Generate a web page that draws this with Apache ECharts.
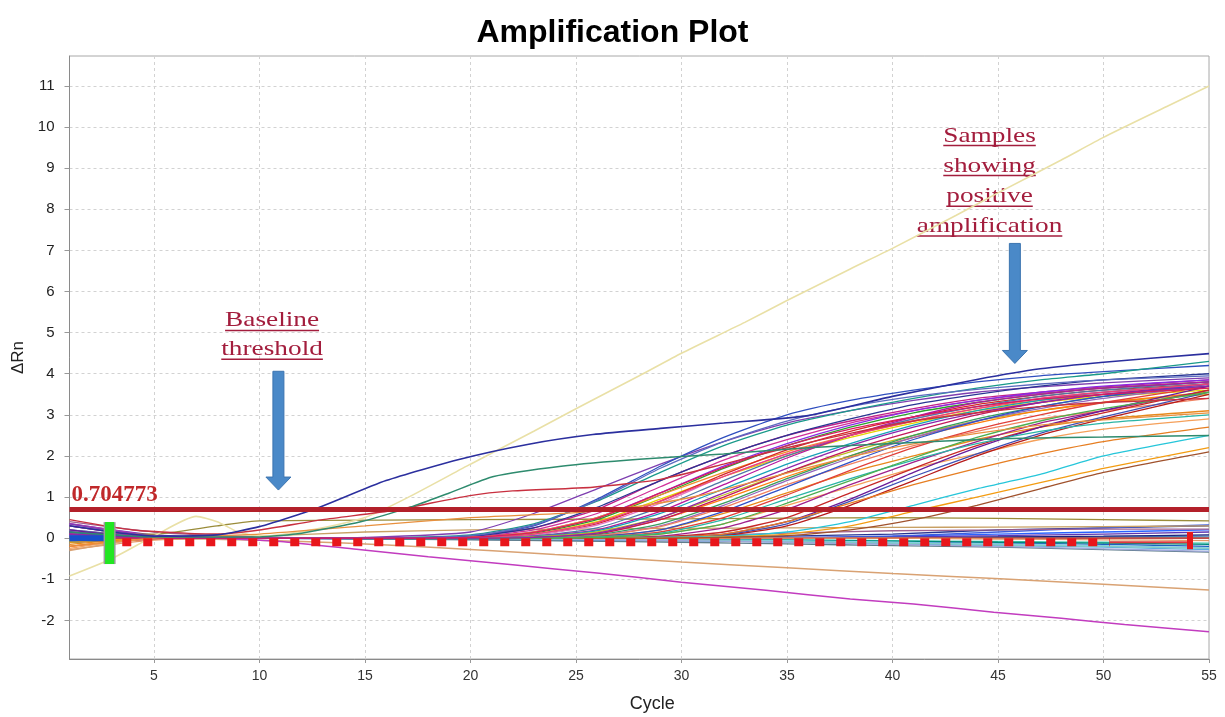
<!DOCTYPE html>
<html><head><meta charset="utf-8">
<script src="https://cdn.jsdelivr.net/npm/echarts@6/dist/echarts.min.js"></script>
<style>html,body{margin:0;padding:0;background:#fff}#c{width:1225px;height:717px}</style>
</head><body><div id="c"></div>
<script>
// ---------------- DATA ----------------
const xTicks = [5,10,15,20,25,30,35,40,45,50,55];
const yTicks = [-2,-1,0,1,2,3,4,5,6,7,8,9,10,11];
const thresholdValue = 0.704773;

// amplifying samples, sampled at these cycles
const ampCycles = [1,5,10,15,20,23,26,29,32,35,38,41,44,47,50,55];
const ampCurves = [
  [0.35,0.05,0,0.02,0.15,0.6,1.2,1.8,2.35,2.8,3.1,3.35,3.55,3.68,3.78,3.9],
  [0.3,0.03,0,0,0.05,0.3,0.95,1.75,2.45,3.0,3.35,3.6,3.8,3.95,4.05,4.2],
  [0.1,0.02,0,0,0.08,0.35,0.9,1.6,2.25,2.75,3.1,3.4,3.65,3.85,4.0,4.3],
  [0.2,0.03,0,0,0.05,0.25,0.7,1.4,2.0,2.5,2.85,3.15,3.4,3.55,3.68,3.85],
  [0.15,0.02,0,0,0.03,0.2,0.6,1.25,1.9,2.4,2.8,3.1,3.35,3.52,3.65,3.8],
  [0,0,0,0,0.03,0.15,0.5,1.1,1.75,2.3,2.75,3.1,3.35,3.55,3.7,3.85],
  [0.05,0.02,0,0,0.05,0.25,0.75,1.4,2.0,2.5,2.9,3.25,3.5,3.7,3.85,4.0],
  [0,0,0,0,0.02,0.12,0.45,1.05,1.7,2.25,2.7,3.05,3.3,3.5,3.65,3.8],
  [-0.1,0,0,0,0.02,0.15,0.5,1.05,1.6,2.1,2.5,2.85,3.15,3.35,3.5,3.65],
  [-0.05,0,0,0,0.02,0.1,0.4,0.95,1.5,2.0,2.45,2.8,3.1,3.3,3.45,3.6],
  [0.1,0.02,0,0,0.02,0.08,0.35,0.9,1.55,2.15,2.6,2.95,3.25,3.45,3.6,3.75],
  [0.05,0,0,0,0,0.08,0.32,0.85,1.5,2.05,2.5,2.9,3.2,3.4,3.55,3.7],
  [0.2,0.02,0,0,0,0.05,0.25,0.75,1.4,2.0,2.5,2.9,3.2,3.45,3.6,3.8],
  [0.1,0,0,0,0,0.05,0.2,0.65,1.3,1.95,2.5,2.95,3.3,3.5,3.65,3.8],
  [-0.1,0,0,0,0,0.04,0.18,0.6,1.2,1.8,2.3,2.75,3.1,3.35,3.55,3.75],
  [0,0,0,0,0,0.03,0.15,0.5,1.05,1.6,2.1,2.5,2.85,3.1,3.3,3.5],
  [-0.2,0,0,0,0,0.02,0.12,0.45,0.95,1.5,2.0,2.45,2.8,3.1,3.3,3.55],
  [0.05,0,0,0,0,0.02,0.1,0.45,1.0,1.6,2.15,2.6,3.0,3.3,3.5,3.75],
  [0,0,0,0,0,0.02,0.08,0.35,0.85,1.45,2.0,2.5,2.9,3.2,3.45,3.7],
  [0.1,0,0,0,0,0,0.06,0.3,0.8,1.4,1.95,2.45,2.85,3.15,3.4,3.7],
  [0,0,0,0,0,0,0.06,0.28,0.75,1.3,1.8,2.25,2.6,2.9,3.1,3.4],
  [-0.15,0,0,0,0,0,0.05,0.2,0.6,1.1,1.6,2.0,2.4,2.7,2.9,3.1],
  [0.15,0,0,0,0,0,0.04,0.2,0.65,1.25,1.85,2.4,2.85,3.2,3.45,3.75],
  [0,0,0,0,0,0,0.03,0.15,0.5,1.05,1.65,2.2,2.65,3.0,3.3,3.7],
  [-0.25,0,0,0,0,0,0.02,0.1,0.35,0.8,1.25,1.7,2.05,2.4,2.65,2.9],
  [0.1,0,0,0,0,0,0,0.05,0.25,0.7,1.3,1.85,2.35,2.8,3.1,3.6],
  [0,0,0,0,0,0,0,0.03,0.15,0.5,1.1,1.7,2.25,2.7,3.05,3.6],
  [0.2,0,0,0,0,0,0,0.02,0.1,0.4,0.95,1.6,2.2,2.7,3.1,3.7],
  [0.05,0,0,0,0,0,0,0.02,0.08,0.35,0.9,1.5,2.05,2.55,2.95,3.55],
  [0,0,0,0,0,0,0,0,0.06,0.3,0.8,1.4,2.0,2.5,2.9,3.5],
  [0,0,0,0,0,0,0,0.02,0.1,0.4,0.85,1.3,1.7,2.05,2.35,2.7],
  [0,0,0,0,0,0,0,0.02,0.05,0.15,0.4,0.8,1.2,1.55,2.0,2.5],
  [-0.1,0,0,0,0,0,0,0,0.03,0.1,0.3,0.65,1.0,1.35,1.7,2.2],
  [0,0,0,0,0,0,0,0,0.02,0.06,0.2,0.45,0.8,1.2,1.6,2.1],
  [0,0,0,0,0,0,0.03,0.12,0.45,0.95,1.45,1.9,2.3,2.6,2.8,3.0],
  [0,0,0,0,0,0,0.02,0.1,0.35,0.85,1.4,1.95,2.45,2.85,3.15,3.55],
  [0.3,0.03,0,0,0.02,0.1,0.38,0.9,1.5,2.05,2.5,2.85,3.15,3.4,3.55,3.75],
  [0.05,0,0,0,0.06,0.32,0.92,1.7,2.35,2.85,3.2,3.45,3.62,3.75,3.85,3.95],
  [0.1,0,0,0,0,0.02,0.12,0.5,1.1,1.7,2.25,2.7,3.05,3.3,3.5,3.7],
  [0,0,0,0,0.02,0.14,0.48,1.1,1.72,2.25,2.65,2.95,3.2,3.38,3.5,3.65]
];
const ampColors = ['#7e3fb0','#2f4fbf','#1a9a8a','#c0208a','#d0309a','#8a2be2','#283593','#2ca02c',
  '#f28e2b','#e6d200','#d62728','#e377c2','#4e79a7','#b5179e','#17a2b8','#bcbd22','#ff7f0e','#c2185b',
  '#3a9d5d','#9467bd','#f08060','#e8891c','#3050c8','#e0403a','#f5a05a','#a0208c','#c62828','#6a1b9a',
  '#3f51b5','#b71c1c','#e67e22','#26c6da','#f39c12','#a0522d','#2ab5a5','#4caf50','#ec407a','#5c6bc0',
  '#8e24aa','#d81b60'];

// non-amplifying samples near the baseline
const baseCycles = [1,5,10,15,20,25,30,35,40,45,50,55];
const baseCurves = [
  [0.05,0,0,-0.02,-0.03,-0.05,-0.06,-0.08,-0.1,-0.12,-0.15,-0.2],
  [0.1,0.02,0,0,-0.02,-0.04,-0.06,-0.1,-0.14,-0.18,-0.22,-0.28],
  [-0.1,0,0,0,0,0,-0.02,-0.04,-0.06,-0.08,-0.1,-0.12],
  [0.3,0.05,0,0,0,0,0,0,0,0.02,0.03,0.05],
  [0.15,0.03,0,0,0,0,0,0.01,0.02,0.03,0.05,0.08],
  [-0.05,0,0,0,-0.01,-0.02,-0.03,-0.05,-0.07,-0.1,-0.12,-0.15],
  [0,0,0,-0.02,-0.04,-0.07,-0.1,-0.14,-0.18,-0.22,-0.28,-0.34],
  [0.2,0.05,0.02,0,0,-0.02,-0.04,-0.06,-0.1,-0.14,-0.18,-0.24],
  [-0.05,0,0,0,0,0,0,0,0.05,0.1,0.15,0.2],
  [0.35,0.08,0,0,0,0,0,0,0.03,0.06,0.1,0.15],
  [0.05,0,0,0,0,0,0,0,0,0,0,0],
  [-0.1,-0.02,0,0,0,0,0,0,0,0,0,0],
  [0,0,0,0,0,-0.02,-0.05,-0.08,-0.12,-0.16,-0.2,-0.25],
  [0.1,0,0,0,0,0,0,0.05,0.1,0.2,0.25,0.3],
  [0,0,0,0,0,0,0,0.02,0.05,0.15,0.25,0.32],
  [-0.2,-0.02,0,0,0,0,0,0,0,0,0,0],
  [-0.28,-0.05,0,0,0,0,0,0,0,-0.02,-0.04,-0.06],
  [0.05,0,0,0,0,-0.03,-0.06,-0.1,-0.15,-0.2,-0.26,-0.32],
  [0.1,0.02,0.05,0.15,0.2,0.22,0.24,0.25,0.26,0.27,0.28,0.3],
  [0.4,0.15,0.03,0,0,0,0.05,0.12,0.18,0.2,0.22,0.22]
];
const baseColors = ['#1f5fbf','#5dade2','#48c9b0','#4682b4','#1a237e','#00897b','#607d8b','#87ceeb',
  '#2962ff','#5e35b1','#008b8b','#8b1a1a','#80cbc4','#283593','#3b5bdb','#d9534f','#e59866','#9fa8da',
  '#c8a064','#a06090'];

// individually traced curves: [cycle, ΔRn]
const khakiCurve = [[1,-0.92],[3,-0.5],[5,0.05],[7,0.53],[8,0.4],[9,0.15],[10,0.05],[11,0.08],[13,0.25],[15,0.5],
  [17,0.98],[20,1.8],[23,2.6],[25,3.15],[28,3.95],[30,4.5],[33,5.25],[35,5.78],[38,6.55],[40,7.05],
  [43,7.85],[45,8.4],[48,9.2],[50,9.75],[53,10.5],[55,11.0]];
const earlyNavyCurve = [[1,0.3],[3,0.15],[5,0.05],[8,0.08],[10,0.28],[12,0.6],[13,0.78],[16,1.4],[19.5,1.92],
  [22.7,2.28],[25.8,2.52],[29,2.67],[32,2.8],[36,2.98],[40,3.45],[44,3.86],[47,4.12],[50,4.28],[55,4.49]];
const earlyGreenCurve = [[1,0.15],[5,0.03],[10,0.03],[12,0.12],[14.8,0.4],[17.3,0.78],[19,1.1],[21.1,1.5],
  [24.3,1.75],[28,1.92],[32,2.05],[36,2.2],[40,2.3],[45,2.42],[50,2.46],[55,2.5]];
const earlyRedCurve = [[1,0.45],[4,0.2],[8,0.1],[10,0.2],[13,0.45],[16.4,0.68],[19.9,1.03],[22,1.15],[25.8,1.24],
  [29,1.43],[32,1.8],[35,2.2],[38,2.55],[41,2.85],[44,3.05],[47,3.2],[50,3.3],[55,3.4]];
const slowOrangeCurve = [[1,-0.2],[5,0],[10,0.1],[15,0.3],[20,0.5],[25,0.62],[28,0.78],[31,1.05],[34,1.45],
  [37,1.85],[40,2.2],[44,2.55],[48,2.8],[55,3.05]];
const oliveFlatCurve = [[1,0.1],[5,0.1],[8,0.3],[10,0.42],[20,0.45],[30,0.47],[40,0.5],[50,0.45],[55,0.42]];
const magentaDecline = [[1,0.35],[3,0.2],[5,0.05],[8,0],[11,-0.08],[14.6,-0.27],[18,-0.45],[22,-0.65],[26,-0.85],
  [30,-1.07],[34,-1.27],[38,-1.48],[41,-1.6],[44.8,-1.8],[48,-1.95],[51,-2.1],[55,-2.28]];
const tanDecline = [[1,-0.3],[5,0],[10,-0.05],[14,-0.12],[18.1,-0.22],[24,-0.4],[30,-0.58],[35,-0.72],
  [40,-0.86],[45.1,-0.99],[50,-1.12],[55,-1.26]];

// baseline range markers
const baselineStartBand = [[1,0],[2.75,0]];
const baselineStartBar = [[2.9,0.39],[2.9,-0.63]];
const baselineDashes = [[3.5,-0.1],[50.3,-0.1]];
const baselineTail = [[50.3,-0.1],[54.1,-0.1]];
const baselineEndBar = [[54.1,0.15],[54.1,-0.27]];

// ---------------- CHART ----------------
const chart = echarts.init(document.getElementById('c'), null, {renderer:'canvas'});
const series = [];
function lineSeries(data, color, width, extra) {
  return Object.assign({type:'line', data, showSymbol:false, symbol:'none', smooth:0.2,
    lineStyle:{color, width}, itemStyle:{color}, silent:true, animation:false}, extra || {});
}
baseCurves.forEach((vals,i)=>series.push(lineSeries(vals.map((v,j)=>[baseCycles[j],v]), baseColors[i], 1.3)));
series.push(lineSeries(tanDecline, '#d9a273', 1.5));
series.push(lineSeries(magentaDecline, '#c23cbf', 1.5));
series.push(lineSeries(oliveFlatCurve, '#9a8c3a', 1.3));
series.push(lineSeries(khakiCurve, '#e9e0a6', 1.6));
ampCurves.forEach((vals,i)=>series.push(lineSeries(vals.map((v,j)=>[ampCycles[j],v]), ampColors[i], 1.3)));
series.push(lineSeries(slowOrangeCurve, '#e8903e', 1.3));
series.push(lineSeries(earlyRedCurve, '#c83040', 1.4));
series.push(lineSeries(earlyGreenCurve, '#2e8b6e', 1.5));
series.push(lineSeries(earlyNavyCurve, '#2b2f9e', 1.6));
// baseline markers
series.push(lineSeries(baselineStartBand, '#1650cc', 6, {smooth:false}));
series.push(lineSeries(baselineDashes, '#e8161b', 8, {smooth:false, lineStyle:{color:'#e8161b', width:8, type:[9,12], cap:'butt'}}));
series.push(lineSeries(baselineTail, '#e0383c', 2, {smooth:false}));
series.push(lineSeries(baselineEndBar, '#e8161b', 6, {smooth:false}));
series.push(lineSeries(baselineStartBar, '#9a9a9a', 12, {smooth:false}));
series.push(lineSeries(baselineStartBar, '#22e622', 9, {smooth:false}));
// threshold
series.push({type:'line', data:[], silent:true, animation:false,
  markLine:{silent:true, symbol:'none', animation:false,
    lineStyle:{color:'#b3202a', width:5, type:'solid'},
    label:{show:true, position:'insideStartTop', distance:[2,3], formatter:'0.704773',
      fontFamily:'Liberation Serif', fontWeight:'bold', fontSize:23, color:'#c0282a'},
    data:[{yAxis:thresholdValue}]}});

const option = {
  animation:false,
  backgroundColor:'#fff',
  title:{text:'Amplification Plot', left:'center', top:12,
    textStyle:{fontFamily:'Liberation Sans', fontWeight:'bold', fontSize:32, color:'#000'}},
  grid:{left:69.5, right:16, top:56, bottom:58, show:true, borderColor:'#a8a8a8', borderWidth:1,
    backgroundColor:'#fff', outerBoundsMode:'none', containLabel:false},
  xAxis:{type:'value', min:1, max:55,
    axisLine:{show:true, onZero:false, lineStyle:{color:'#8a8a8a', width:1}},
    axisTick:{show:true, customValues:xTicks, length:4, lineStyle:{color:'#999'}},
    axisLabel:{customValues:xTicks, margin:10, fontSize:14, color:'#333',
      fontFamily:'Liberation Sans Narrow, Liberation Sans, Arial'},
    splitLine:{show:true, lineStyle:{color:'#d2d2d2', type:[3,3], width:1}},
    name:'Cycle', nameLocation:'middle', nameGap:36,
    nameTextStyle:{fontSize:18, color:'#222', fontFamily:'Liberation Sans', padding:[0,0,0,26]}},
  yAxis:{type:'value', min:-2.94, max:11.73,
    axisLine:{show:true, onZero:false, lineStyle:{color:'#8a8a8a', width:1}},
    axisTick:{show:true, customValues:yTicks, length:5, lineStyle:{color:'#999'}},
    axisLabel:{customValues:yTicks, margin:15, fontSize:15, color:'#222', fontFamily:'Liberation Sans, Arial'},
    splitLine:{show:true, lineStyle:{color:'#d2d2d2', type:[3,3], width:1}},
    name:'ΔRn', nameLocation:'middle', nameGap:40,
    nameTextStyle:{fontSize:17, color:'#222', fontFamily:'Liberation Sans'}},
  series
};
chart.setOption(option);

// ---------------- ANNOTATIONS ----------------
(function(){
  const px = (c,v)=>chart.convertToPixel({gridIndex:0},[c,v]);
  const fam = 'Liberation Serif', fs = 21, sx = 1.3, col = '#a31d3d';
  const ctx = document.createElement('canvas').getContext('2d');
  ctx.font = fs + 'px "' + fam + '"';
  const els = [];
  function textBlock(lines, centerCycle, baseVals) {
    lines.forEach((t,i)=>{
      const p = px(centerCycle, baseVals[i]);   // p[1] = text baseline
      els.push({type:'text', x:p[0], y:p[1] + 5, scaleX:sx, silent:true,
        style:{text:t, fontFamily:fam, fontSize:fs, fill:col, align:'center', verticalAlign:'bottom'}});
      const w = ctx.measureText(t).width * sx;
      els.push({type:'line', silent:true,
        shape:{x1:p[0]-w/2, y1:p[1]+4, x2:p[0]+w/2, y2:p[1]+4},
        style:{stroke:col, lineWidth:1.5}});
    });
  }
  function arrow(cyc, vTop, vTip) {
    const a = px(cyc, vTop), b = px(cyc, vTip);
    const x = a[0], y1 = a[1], y2 = b[1], hw = 5.5, hh = 12.5, hl = 13;
    els.push({type:'polygon', silent:true,
      shape:{points:[[x-hw,y1],[x+hw,y1],[x+hw,y2-hl],[x+hh,y2-hl],[x,y2],[x-hh,y2-hl],[x-hw,y2-hl]]},
      style:{fill:'#4a89c8', stroke:'#3c74b0', lineWidth:1}});
  }
  textBlock(['Baseline','threshold'], 10.6, [5.15, 4.45]);
  arrow(10.9, 4.06, 1.17);
  textBlock(['Samples','showing','positive','amplification'], 44.6, [9.65, 8.92, 8.17, 7.45]);
  arrow(45.8, 7.17, 4.25);
  chart.setOption({graphic:els});
})();
</script>
</body></html>
